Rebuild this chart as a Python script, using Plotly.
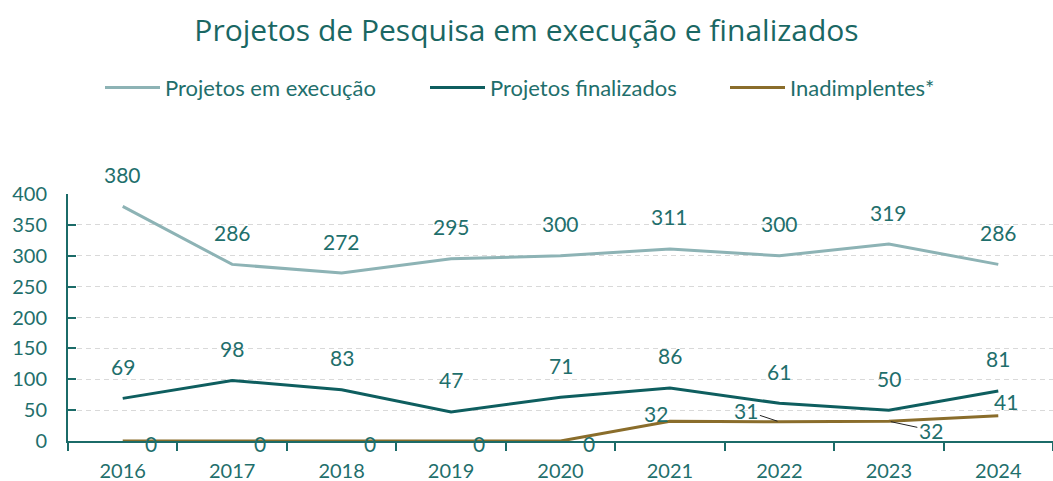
import plotly.graph_objects as go

anos = ["2016", "2017", "2018", "2019", "2020", "2021", "2022", "2023", "2024"]
em_execucao = [380, 286, 272, 295, 300, 311, 300, 319, 286]
finalizados = [69, 98, 83, 47, 71, 86, 61, 50, 81]
inadimplentes = [0, 0, 0, 0, 0, 32, 31, 32, 41]

TXT = "#1f6f6c"
FONT = "Lato"
c_exec = "#8db3b5"
c_fin = "#0e5e5f"
c_inad = "#8a6d2b"
AX = "#1b6b68"

fig = go.Figure()
fig.add_trace(go.Scatter(x=anos, y=em_execucao, mode="lines", name="Projetos em execução",
                         line=dict(color=c_exec, width=3), legend="legend"))
fig.add_trace(go.Scatter(x=anos, y=finalizados, mode="lines", name="Projetos finalizados",
                         line=dict(color=c_fin, width=3), legend="legend2"))
fig.add_trace(go.Scatter(x=anos, y=inadimplentes, mode="lines", name="Inadimplentes*",
                         line=dict(color=c_inad, width=3), legend="legend3"))

LBL = dict(color=TXT, size=21, family=FONT)
ann = []
for ys in (em_execucao, finalizados):
    for i, v in enumerate(ys):
        ann.append(dict(x=i, y=v, xref="x", yref="y", text=str(v), showarrow=False,
                        yshift=32, font=LBL))
# Inadimplentes labels: (dx, dy, arrow)
offs = [(28, 0, False)] * 5 + [(-14, 10, False), (-33, 11, True), (42, -9, True), (8, 16, False)]
for i, (v, (dx, dy, arr)) in enumerate(zip(inadimplentes, offs)):
    if arr:
        ann.append(dict(x=i, y=v, xref="x", yref="y", text=str(v), showarrow=True,
                        ax=dx, ay=-dy, arrowhead=0, arrowwidth=1, arrowcolor="#222222",
                        standoff=2, font=LBL))
    else:
        ann.append(dict(x=i, y=v, xref="x", yref="y", text=str(v), showarrow=False,
                        xshift=dx, yshift=dy - 2, font=LBL))

LEG = dict(orientation="h", y=1.43, yanchor="middle", xanchor="left",
           font=dict(size=22, color=TXT, family=FONT), itemwidth=55,
           bgcolor="rgba(0,0,0,0)")

def px2x(px):
    return (px - 68) / 985.0

fig.update_layout(
    width=1053, height=481,
    paper_bgcolor="white", plot_bgcolor="white",
    margin=dict(l=68, r=0, t=194, b=40),
    font=dict(family=FONT, color=TXT, size=20),
    title=dict(text="Projetos de Pesquisa em execução e finalizados", x=0.5, xanchor="center",
               y=0.937, yanchor="middle", font=dict(size=30, color="#1a6763", family="Open Sans")),
    legend=dict(LEG, x=px2x(100)),
    legend2=dict(LEG, x=px2x(425)),
    legend3=dict(LEG, x=px2x(725)),
    annotations=ann,
    showlegend=True,
)
fig.update_xaxes(type="category", showgrid=False, showline=True, linecolor=AX, linewidth=2,
                 ticks="outside", tickson="boundaries", ticklen=8, tickcolor=AX, tickwidth=2,
                 ticklabelstandoff=11,
                 tickfont=dict(size=20, color=TXT, family=FONT), range=[-0.5, 8.5])
fig.update_yaxes(range=[0, 400], dtick=50, showgrid=True, gridcolor="#d9d9d9", griddash="5px,4px",
                 gridwidth=1, showline=True, linecolor=AX, linewidth=2, ticks="inside",
                 ticklen=8, tickcolor=AX, tickwidth=1.5, zeroline=False, ticklabelstandoff=15,
                 tickfont=dict(size=20, color=TXT, family=FONT))

fig.write_html("out.html", config={"displayModeBar": False},
               post_script="document.body.style.margin='0';document.body.style.overflow='hidden';")
